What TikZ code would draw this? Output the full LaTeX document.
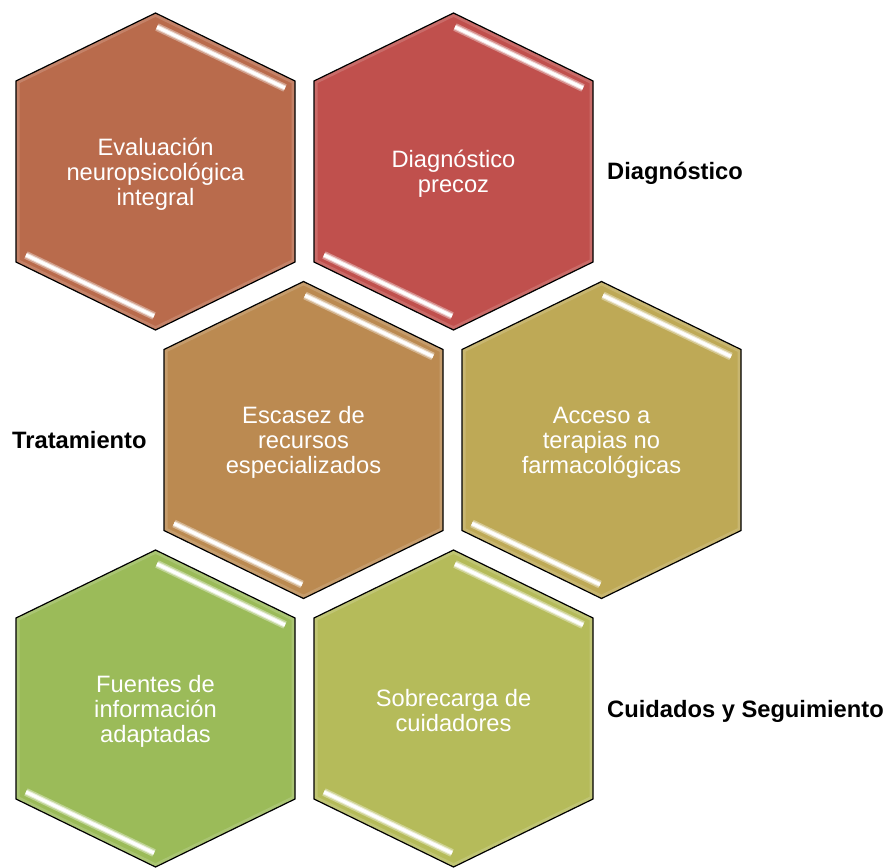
\documentclass[tikz,border=0pt]{standalone}
\usepackage{fontspec}
\setmainfont{Liberation Sans}
\definecolor{hexA}{HTML}{B96B4C}
\definecolor{hexB}{HTML}{C0504D}
\definecolor{hexC}{HTML}{BB8A51}
\definecolor{hexD}{HTML}{BEA956}
\definecolor{hexE}{HTML}{9BBB59}
\definecolor{hexF}{HTML}{B5BB5A}
\tikzset{
  hexlabel/.style={text=white, align=center, inner sep=0pt, font=\fontsize{23.7}{25}\selectfont},
  sidelabel/.style={text=black, inner sep=0pt, font=\fontsize{23.7}{25}\selectfont\bfseries},
  hexedge/.style={draw=black, line width=1.2pt, line join=miter},
}
\def\hexpath{(0,-158.5)--(139.5,-90.5)--(139.5,90.5)--(0,158.5)--(-139.5,90.5)--(-139.5,-90.5)--cycle}
\newcommand\myhexagon[5]{%
  \begin{scope}[shift={(#2,#3)}]
    \fill[#4] \hexpath;
    \begin{scope}
      \clip \hexpath;
      \draw[#4!65!white, line width=7pt, opacity=0.45] \hexpath;
    \end{scope}
    \draw[line width=8pt, #4!55!white, opacity=0.8] (1.5,-144.5)--(129.5,-83.5);
    \draw[line width=5pt, #4!25!white] (1.5,-144.5)--(129.5,-83.5);
    \draw[line width=3pt, white] (1.5,-144.5)--(129.5,-83.5);
    \draw[line width=8pt, #4!55!white, opacity=0.8] (-1.5,144.5)--(-129.5,83.5);
    \draw[line width=5pt, #4!25!white] (-1.5,144.5)--(-129.5,83.5);
    \draw[line width=3pt, white] (-1.5,144.5)--(-129.5,83.5);
    \draw[hexedge] \hexpath;
    \node[hexlabel] (#1) at (0,2.5) {#5};
  \end{scope}}
\begin{document}
\begin{tikzpicture}[x=1pt,y=-1pt]
  \useasboundingbox (0,0) rectangle (890,867);
  \myhexagon{evaluacion}{155.5}{171.5}{hexA}{Evaluación\\neuropsicológica\\integral}
  \myhexagon{diagnostico}{453.5}{171.5}{hexB}{Diagnóstico\\precoz}
  \myhexagon{escasez}{303.5}{440}{hexC}{Escasez de\\recursos\\especializados}
  \myhexagon{acceso}{601.5}{440}{hexD}{Acceso a\\terapias no\\farmacológicas}
  \myhexagon{fuentes}{155.5}{708.5}{hexE}{Fuentes de\\información\\adaptadas}
  \myhexagon{sobrecarga}{453.5}{708.5}{hexF}{Sobrecarga de\\cuidadores}
  \node[sidelabel, anchor=base west] (lbldiag) at (607,179) {Diagnóstico};
  \node[sidelabel, anchor=base west] (lbltrat) at (12,448) {Tratamiento};
  \node[sidelabel, anchor=base west] (lblcuid) at (607,717) {Cuidados y Seguimiento};
\end{tikzpicture}
\end{document}
